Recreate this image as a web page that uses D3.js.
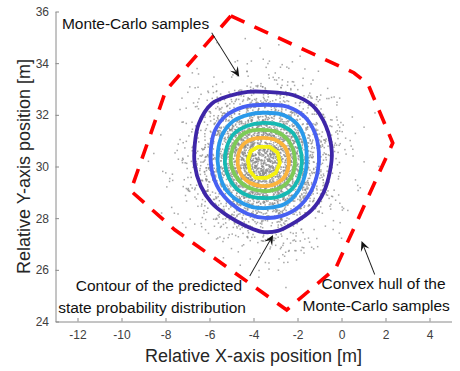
<!DOCTYPE html>
<html>
<head>
<meta charset="utf-8">
<script src="https://cdn.jsdelivr.net/npm/d3@7"></script>
<style>
  html, body { margin: 0; padding: 0; background: #fff; }
  svg { display: block; font-family: "Liberation Sans", Arial, Helvetica, sans-serif; }
</style>
</head>
<body>
<svg id="chart" width="460" height="371"></svg>
<script>
// ---- axis ticks ----
const xTicks = [-12, -10, -8, -6, -4, -2, 0, 2, 4];
const yTicks = [24, 26, 28, 30, 32, 34, 36];

// ---- Monte-Carlo sample cloud (centre, spread, count) ----
const sampleCount = 3600;
const sampleMean = [-3.56, 30.19];
const sampleSpread = [1.5, 1.38];
const sampleSeed = 0.4217;

// ---- convex hull of the samples (x, y) ----
const hullX = [-5.03, 0.56, 1.20, 2.33, -0.26, -2.49, -7.58, -9.58, -7.99];
const hullY = [35.83, 33.63, 33.20, 30.91, 26.07, 24.45, 27.55, 29.06, 32.93];

// ---- contours of the predicted state probability distribution ----
const contour1 = [[-3.44,32.89],[-2.21,32.77],[-1.30,32.35],[-0.71,31.57],[-0.44,30.57],[-0.53,29.79],[-0.80,29.02],[-1.35,28.32],[-2.08,27.86],[-2.90,27.51],[-3.62,27.47],[-4.35,27.70],[-5.17,28.09],[-5.90,28.59],[-6.40,29.25],[-6.67,30.06],[-6.67,30.84],[-6.49,31.65],[-5.90,32.43],[-5.08,32.74],[-4.26,32.89]];
const contour2 = [[-3.44,32.39],[-2.44,32.31],[-1.67,31.92],[-1.21,31.30],[-1.03,30.57],[-1.08,29.79],[-1.40,29.02],[-1.99,28.40],[-2.71,28.09],[-3.49,28.01],[-4.26,28.16],[-4.99,28.55],[-5.58,29.13],[-5.90,29.87],[-5.94,30.64],[-5.76,31.38],[-5.26,31.96],[-4.44,32.31]];
const contour3 = [[-3.58,32.08],[-2.67,32.00],[-2.03,31.65],[-1.67,31.03],[-1.58,30.33],[-1.67,29.64],[-1.99,29.02],[-2.58,28.55],[-3.35,28.40],[-4.08,28.44],[-4.76,28.71],[-5.30,29.17],[-5.58,29.83],[-5.62,30.57],[-5.40,31.26],[-4.90,31.77],[-4.26,32.00]];
const contour4 = [[-3.58,31.69],[-2.80,31.61],[-2.21,31.30],[-1.90,30.76],[-1.80,30.18],[-1.94,29.56],[-2.30,29.09],[-2.90,28.82],[-3.58,28.78],[-4.21,28.86],[-4.76,29.13],[-5.12,29.56],[-5.30,30.14],[-5.21,30.76],[-4.90,31.26],[-4.30,31.57]];
const contour5 = [[-3.62,31.42],[-2.94,31.34],[-2.44,31.03],[-2.17,30.57],[-2.12,30.06],[-2.30,29.56],[-2.71,29.21],[-3.26,29.06],[-3.90,29.09],[-4.44,29.29],[-4.85,29.68],[-5.03,30.18],[-4.94,30.72],[-4.62,31.15],[-4.17,31.38]];
const contour6 = [[-3.58,31.11],[-2.99,31.03],[-2.58,30.76],[-2.40,30.33],[-2.44,29.87],[-2.67,29.52],[-3.12,29.29],[-3.67,29.25],[-4.17,29.37],[-4.53,29.64],[-4.71,30.06],[-4.67,30.53],[-4.44,30.88],[-4.03,31.07]];
const contour7 = [[-3.80,30.76],[-3.26,30.76],[-2.90,30.53],[-2.80,30.14],[-2.99,29.75],[-3.40,29.56],[-3.90,29.56],[-4.17,29.83],[-4.26,30.26],[-4.12,30.60]];
const contourColors = ["#3e26a8", "#4760f2", "#2a9aea", "#16b9b3", "#7dcb58", "#fbb43d", "#f5f20f"];

// ---- annotations: text lines and arrows (data units) ----
const noteLines = [
  { text: "Monte-Carlo samples", x: -12.71, y: 35.31 },
  { text: "Contour of the predicted", x: -12.08, y: 25.18 },
  { text: "state probability distribution", x: -12.88, y: 24.33 },
  { text: "Convex hull of the", x: -0.91, y: 25.26 },
  { text: "Monte-Carlo samples", x: -1.77, y: 24.41 }
];
const noteArrows = [
  { from: [-5.90, 35.18], to: [-4.65, 33.47] },
  { from: [-4.17, 25.76], to: [-3.11, 27.35] },
  { from: [1.51, 25.82], to: [0.91, 27.12] }
];

// ---- layout ----
const svg = d3.select("#chart");
const x = d3.scaleLinear().domain([-13, 5]).range([55.5, 451.5]);
const y = d3.scaleLinear().domain([24, 36]).range([321.5, 11.5]);

// samples, kept inside their convex hull
const hull = hullX.map((v, i) => [v, hullY[i]]);
const rng = d3.randomLcg(sampleSeed);
const drawX = d3.randomNormal.source(rng)(sampleMean[0], sampleSpread[0]);
const drawY = d3.randomNormal.source(rng)(sampleMean[1], sampleSpread[1]);
const samples = [];
while (samples.length < sampleCount) {
  const p = [drawX(), drawY()];
  if (d3.polygonContains(hull, p)) samples.push(p);
}
svg.append("g")
  .selectAll("rect")
  .data(samples)
  .join("rect")
  .attr("x", d => x(d[0]) - 0.75)
  .attr("y", d => y(d[1]) - 0.75)
  .attr("width", 1.5)
  .attr("height", 1.5)
  .attr("fill", "#8a8a8a")
  .attr("fill-opacity", 0.75);

// contours
const contours = [contour1, contour2, contour3, contour4, contour5, contour6, contour7];
const smooth = d3.line().x(d => x(d[0])).y(d => y(d[1])).curve(d3.curveCatmullRomClosed.alpha(0.5));
const straight = d3.line().x(d => x(d[0])).y(d => y(d[1])).curve(d3.curveLinearClosed);
svg.append("g")
  .selectAll("path")
  .data(contours)
  .join("path")
  .attr("d", (d, i) => i === 6 ? straight(d) : smooth(d))
  .attr("fill", "none")
  .attr("stroke", (d, i) => contourColors[i])
  .attr("stroke-width", 3.8)
  .attr("stroke-linejoin", "round");

// convex hull
svg.append("path")
  .attr("d", straight(hull))
  .attr("fill", "none")
  .attr("stroke", "#ff0000")
  .attr("stroke-width", 3.6)
  .attr("stroke-dasharray", "15 11")
  .attr("stroke-linejoin", "miter");

// axes (left and bottom only, ticks pointing inward)
const axisColor = "#8a8a8a";
const gx = svg.append("g")
  .attr("transform", `translate(0,${y(24)})`)
  .call(d3.axisBottom(x).tickValues(xTicks).tickFormat(d => String(d))
    .tickSizeInner(-3.5).tickSizeOuter(0).tickPadding(9));
const gy = svg.append("g")
  .attr("transform", `translate(${x(-13)},0)`)
  .call(d3.axisLeft(y).tickValues(yTicks).tickFormat(d => String(d))
    .tickSizeInner(-3.5).tickSizeOuter(0).tickPadding(6.5));
[gx, gy].forEach(g => {
  g.select(".domain").attr("stroke", axisColor);
  g.selectAll(".tick line").attr("stroke", axisColor);
  g.selectAll(".tick text")
    .attr("fill", "#404040")
    .style("font-size", "12px")
    .style("font-family", "'Liberation Sans', Arial, sans-serif");
});

// axis titles
svg.append("text")
  .attr("x", (x(-13) + x(5)) / 2)
  .attr("y", 361.5)
  .attr("text-anchor", "middle")
  .attr("fill", "#262626")
  .style("font-size", "18px")
  .text("Relative X-axis position [m]");
svg.append("text")
  .attr("transform", `translate(30,${(y(24) + y(36)) / 2}) rotate(-90)`)
  .attr("text-anchor", "middle")
  .attr("fill", "#262626")
  .style("font-size", "18px")
  .text("Relative Y-axis position [m]");

// annotation arrows
const arrows = svg.append("g");
noteArrows.forEach(a => {
  const x0 = x(a.from[0]), y0 = y(a.from[1]);
  const x1 = x(a.to[0]), y1 = y(a.to[1]);
  const ang = Math.atan2(y1 - y0, x1 - x0);
  const len = Math.hypot(x1 - x0, y1 - y0);
  const g = arrows.append("g")
    .attr("transform", `translate(${x0},${y0}) rotate(${ang * 180 / Math.PI})`);
  g.append("line")
    .attr("x1", 0).attr("y1", 0)
    .attr("x2", len - 6).attr("y2", 0)
    .attr("stroke", "#1a1a1a")
    .attr("stroke-width", 0.9);
  g.append("path")
    .attr("d", `M${len},0 L${len - 10},-4.6 L${len - 6},0 L${len - 10},4.6 Z`)
    .attr("fill", "#111");
});

// annotation text
svg.append("g")
  .selectAll("text")
  .data(noteLines)
  .join("text")
  .attr("x", d => x(d.x))
  .attr("y", d => y(d.y))
  .attr("fill", "#111")
  .style("font-size", "15.5px")
  .text(d => d.text);
</script>
</body>
</html>
